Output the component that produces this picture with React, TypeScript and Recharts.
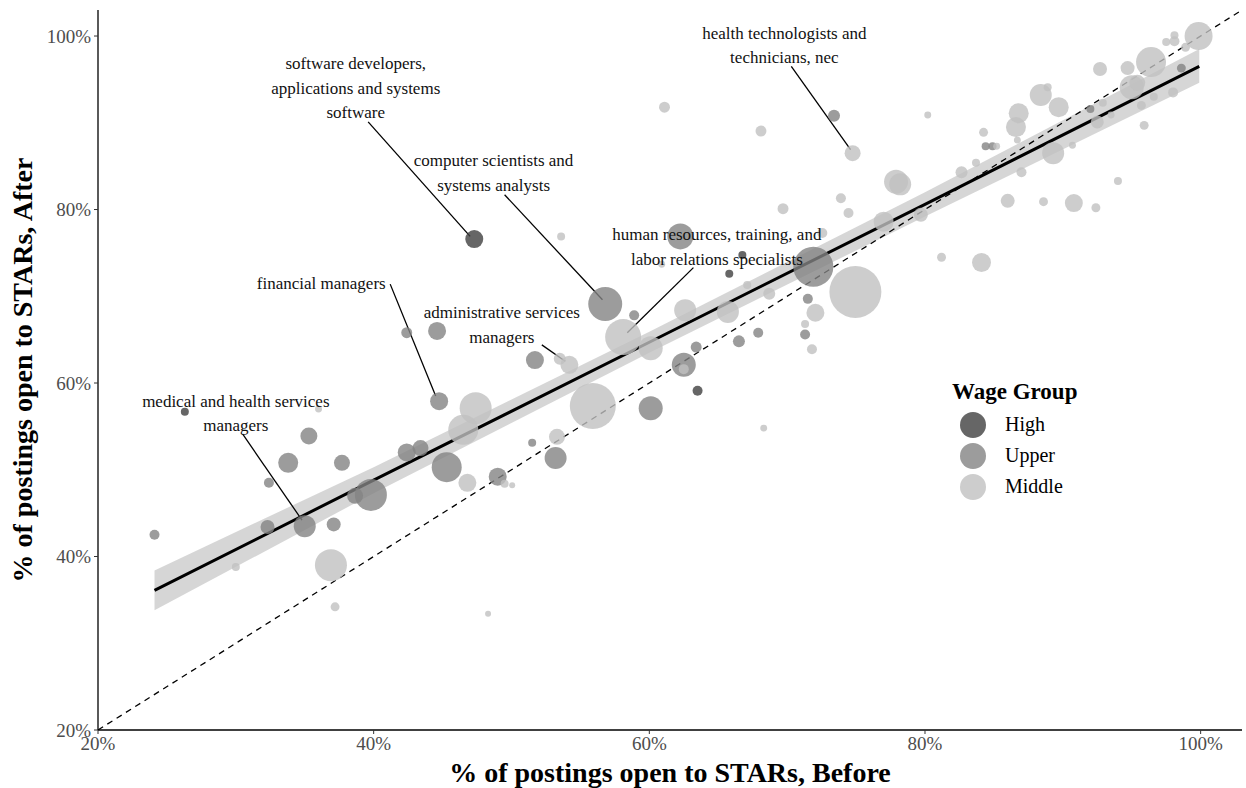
import { Area, ComposedChart, Legend, Line, ReferenceLine, Scatter, XAxis, YAxis, ZAxis } from 'recharts'

const FONT = "'Liberation Serif', 'Times New Roman', serif"

// x = % open before, y = % open after, z = relative posting volume
const HIGH = [
  [47.3, 76.6, 81],
  [26.3, 56.7, 16],
  [63.5, 59.1, 25],
  [65.8, 72.6, 16],
  [66.75, 74.75, 16],
]

const UPPER = [
  [73.4, 90.8, 36], [56.8, 69.1, 289], [62.25, 76.9, 169], [58.9, 67.8, 25],
  [44.75, 57.9, 81], [44.6, 66.0, 81], [42.4, 65.8, 30], [35.3, 53.9, 72],
  [33.8, 50.8, 100], [37.7, 50.8, 64], [32.4, 48.5, 25], [42.4, 52.0, 81],
  [43.4, 52.5, 64], [45.3, 50.3, 225], [39.8, 47.1, 256], [38.65, 47.0, 64],
  [35.0, 43.5, 121], [37.1, 43.7, 49], [32.3, 43.4, 49], [24.1, 42.5, 25],
  [49.0, 49.2, 81], [51.7, 62.65, 81], [53.2, 51.35, 121], [51.5, 53.1, 16],
  [60.1, 57.1, 144], [62.5, 62.1, 144], [63.4, 64.15, 30], [66.5, 64.8, 36],
  [67.9, 65.8, 25], [71.5, 69.7, 25], [71.3, 65.6, 25], [71.9, 73.4, 400],
  [84.4, 87.3, 16], [84.9, 87.3, 16], [92.0, 91.6, 16], [98.6, 96.3, 20],
]

const MIDDLE = [
  [74.95, 70.5, 676], [55.9, 57.35, 529], [58.1, 65.3, 324], [60.1, 64.0, 144],
  [62.6, 68.4, 121], [65.7, 68.2, 121], [68.7, 70.3, 36], [67.1, 71.3, 16],
  [69.7, 80.1, 30], [73.9, 81.3, 25], [74.45, 79.6, 25], [72.55, 77.3, 25],
  [72.05, 68.1, 81], [71.3, 66.8, 16], [71.8, 63.9, 25], [68.3, 54.8, 12],
  [61.1, 91.8, 30], [68.1, 89.05, 30], [74.75, 86.5, 64], [77.9, 83.2, 144],
  [78.2, 82.9, 121], [77.0, 78.6, 100], [53.6, 76.9, 16], [60.9, 73.7, 12],
  [62.5, 61.6, 25], [80.2, 90.9, 12], [79.7, 79.4, 49], [81.2, 74.5, 20],
  [82.65, 84.3, 36], [83.7, 85.4, 16], [84.1, 73.9, 90], [84.25, 88.9, 20],
  [85.2, 87.3, 12], [86.0, 81.0, 49], [86.6, 89.5, 100], [86.8, 91.1, 100],
  [86.7, 88.0, 12], [87.0, 84.3, 25], [88.4, 93.2, 121], [88.9, 94.1, 16],
  [88.6, 80.9, 20], [89.3, 86.5, 121], [89.7, 91.8, 100], [90.7, 87.4, 12],
  [90.8, 80.75, 81], [92.4, 80.2, 20], [92.5, 90.1, 42], [92.7, 96.2, 49],
  [92.9, 92.3, 16], [93.5, 90.9, 12], [94.0, 83.3, 16], [94.7, 96.3, 49],
  [95.0, 94.1, 144], [95.4, 94.6, 64], [95.7, 92.0, 20], [95.9, 89.7, 20],
  [96.4, 97.0, 225], [96.6, 93.0, 16], [97.5, 99.3, 16], [98.0, 93.5, 25],
  [98.1, 100.1, 16], [98.1, 99.4, 25], [98.9, 98.7, 20], [99.85, 100.0, 196],
  [47.4, 57.1, 256], [46.5, 54.6, 225], [46.8, 48.5, 81], [49.5, 48.4, 16],
  [50.05, 48.2, 9], [53.3, 53.8, 64], [54.2, 62.1, 81], [53.5, 62.8, 36],
  [36.9, 39.0, 256], [37.2, 34.2, 20], [30.0, 38.8, 16], [48.3, 33.4, 9],
  [36.0, 57.0, 12],
]

// linear fit with 95% band
const FIT_X = [24.1, 40, 60, 80, 99.9]
const FIT_Y = [36.1, 48.8, 64.7, 80.6, 96.5]
const BAND_LO = [33.8, 47.3, 63.5, 79.2, 94.6]
const BAND_HI = [38.4, 50.3, 65.9, 82.0, 98.5]

const TICKS = [20, 40, 60, 80, 100]

const ANNOTATIONS = [
  { x: 38.7, y: 96.8, lines: ['software developers,', 'applications and systems', 'software'], from: [39.6, 90.1], to: [47.0, 76.9] },
  { x: 48.7, y: 85.6, lines: ['computer scientists and', 'systems analysts'], from: [49.5, 81.7], to: [56.6, 69.6] },
  { x: 69.8, y: 100.3, lines: ['health technologists and', 'technicians, nec'], from: [70.3, 96.5], to: [74.6, 86.9] },
  { x: 64.9, y: 77.1, lines: ['human resources, training, and', 'labor relations specialists'], from: [63.2, 73.3], to: [58.4, 65.8] },
  { x: 36.2, y: 71.5, lines: ['financial managers'], from: [41.2, 71.4], to: [44.5, 58.5] },
  { x: 49.3, y: 68.1, lines: ['administrative services', 'managers'], from: [52.2, 64.4], to: [53.9, 62.5] },
  { x: 30.0, y: 57.9, lines: ['medical and health services', 'managers'], from: [30.5, 54.1], to: [34.8, 44.2] },
]

const GROUPS = [
  { name: 'High', color: '#404040', points: HIGH },
  { name: 'Upper', color: '#838383', points: UPPER },
  { name: 'Middle', color: '#c0c0c0', points: MIDDLE },
]

const LEGEND_SWATCH = ['#666666', '#9c9c9c', '#cdcdcd']

const fitData = FIT_X.map((x, i) => ({ x, fit: FIT_Y[i], band: [BAND_LO[i], BAND_HI[i]] }))

function Bubble(props: any) {
  const r = props.width / 2
  return <circle cx={props.cx} cy={props.cy} r={r} fill={props.fill} fillOpacity={0.8} />
}

function AnnotationText(props: any) {
  const { cx, cy, payload } = props
  return (
    <g>
      {payload.lines.map((t: string, i: number) => (
        <text key={i} x={cx} y={cy + i * 24.5} textAnchor="middle" dominantBaseline="central" fontSize={17} fontFamily={FONT} fill="#111">
          {t}
        </text>
      ))}
    </g>
  )
}

function WageLegend() {
  return (
    <div style={{ fontFamily: FONT, color: '#000' }}>
      <div style={{ fontSize: 23, fontWeight: 'bold', lineHeight: '28px', marginLeft: 5 }}>Wage Group</div>
      <div style={{ marginTop: 3 }}>
        {GROUPS.map((g, i) => (
          <div key={g.name} style={{ display: 'flex', alignItems: 'center', height: 31 }}>
            <svg width={26} height={26} style={{ marginLeft: 13 }}>
              <circle cx={13} cy={13} r={13} fill={LEGEND_SWATCH[i]} />
            </svg>
            <span style={{ fontSize: 20, marginLeft: 19 }}>{g.name}</span>
          </div>
        ))}
      </div>
    </div>
  )
}

export default function App() {
  const tick = { fill: '#4d4d4d', fontSize: 19, fontFamily: FONT }
  return (
    <div style={{ position: 'absolute', left: 0, top: 0, background: '#fff' }}>
      <ComposedChart width={1246} height={788} data={fitData} margin={{ top: 10, right: 4, bottom: 0, left: 0 }}>
        <XAxis
          type="number"
          dataKey="x"
          domain={[20, 103]}
          ticks={TICKS}
          allowDataOverflow
          tickFormatter={(v) => `${v}%`}
          tick={tick}
          tickSize={4}
          tickMargin={3}
          height={58}
          axisLine={{ stroke: '#000', strokeWidth: 1.3 }}
          tickLine={{ stroke: '#333' }}
          label={{ value: '% of postings open to STARs, Before', position: 'insideBottom', offset: 6, style: { fontSize: 28, fontWeight: 'bold', fontFamily: FONT, fill: '#000' } }}
        />
        <YAxis
          type="number"
          dataKey="y"
          domain={[20, 103]}
          ticks={TICKS}
          allowDataOverflow
          tickFormatter={(v) => `${v}%`}
          tick={tick}
          tickSize={4}
          tickMargin={3}
          width={98}
          axisLine={{ stroke: '#000', strokeWidth: 1.3 }}
          tickLine={{ stroke: '#333' }}
          label={{ value: '% of postings open to STARs, After', angle: -90, position: 'insideLeft', offset: 22, style: { fontSize: 28, fontWeight: 'bold', fontFamily: FONT, fill: '#000', textAnchor: 'middle' } }}
        />
        <ZAxis type="number" dataKey="z" domain={[0, 900]} range={[0, 2827]} />
        <Area type="linear" dataKey="band" stroke="none" fill="#999999" fillOpacity={0.4} isAnimationActive={false} />
        {GROUPS.map((g) => (
          <Scatter
            key={g.name}
            name={g.name}
            data={g.points.map(([x, y, z]) => ({ x, y, z }))}
            fill={g.color}
            shape={<Bubble />}
            isAnimationActive={false}
          />
        ))}
        <ReferenceLine segment={[{ x: 20, y: 20 }, { x: 103, y: 103 }]} stroke="#000" strokeWidth={1.3} strokeDasharray="6 5" />
        <Line type="linear" dataKey="fit" stroke="#000" strokeWidth={3} dot={false} activeDot={false} isAnimationActive={false} />
        {ANNOTATIONS.map((a, i) => (
          <ReferenceLine key={i} segment={[{ x: a.from[0], y: a.from[1] }, { x: a.to[0], y: a.to[1] }]} stroke="#000" strokeWidth={1.3} />
        ))}
        <Scatter data={ANNOTATIONS} shape={<AnnotationText />} isAnimationActive={false} legendType="none" />
        <Legend layout="vertical" align="center" verticalAlign="middle" wrapperStyle={{ left: 947, top: 378 }} content={<WageLegend />} />
      </ComposedChart>
    </div>
  )
}
